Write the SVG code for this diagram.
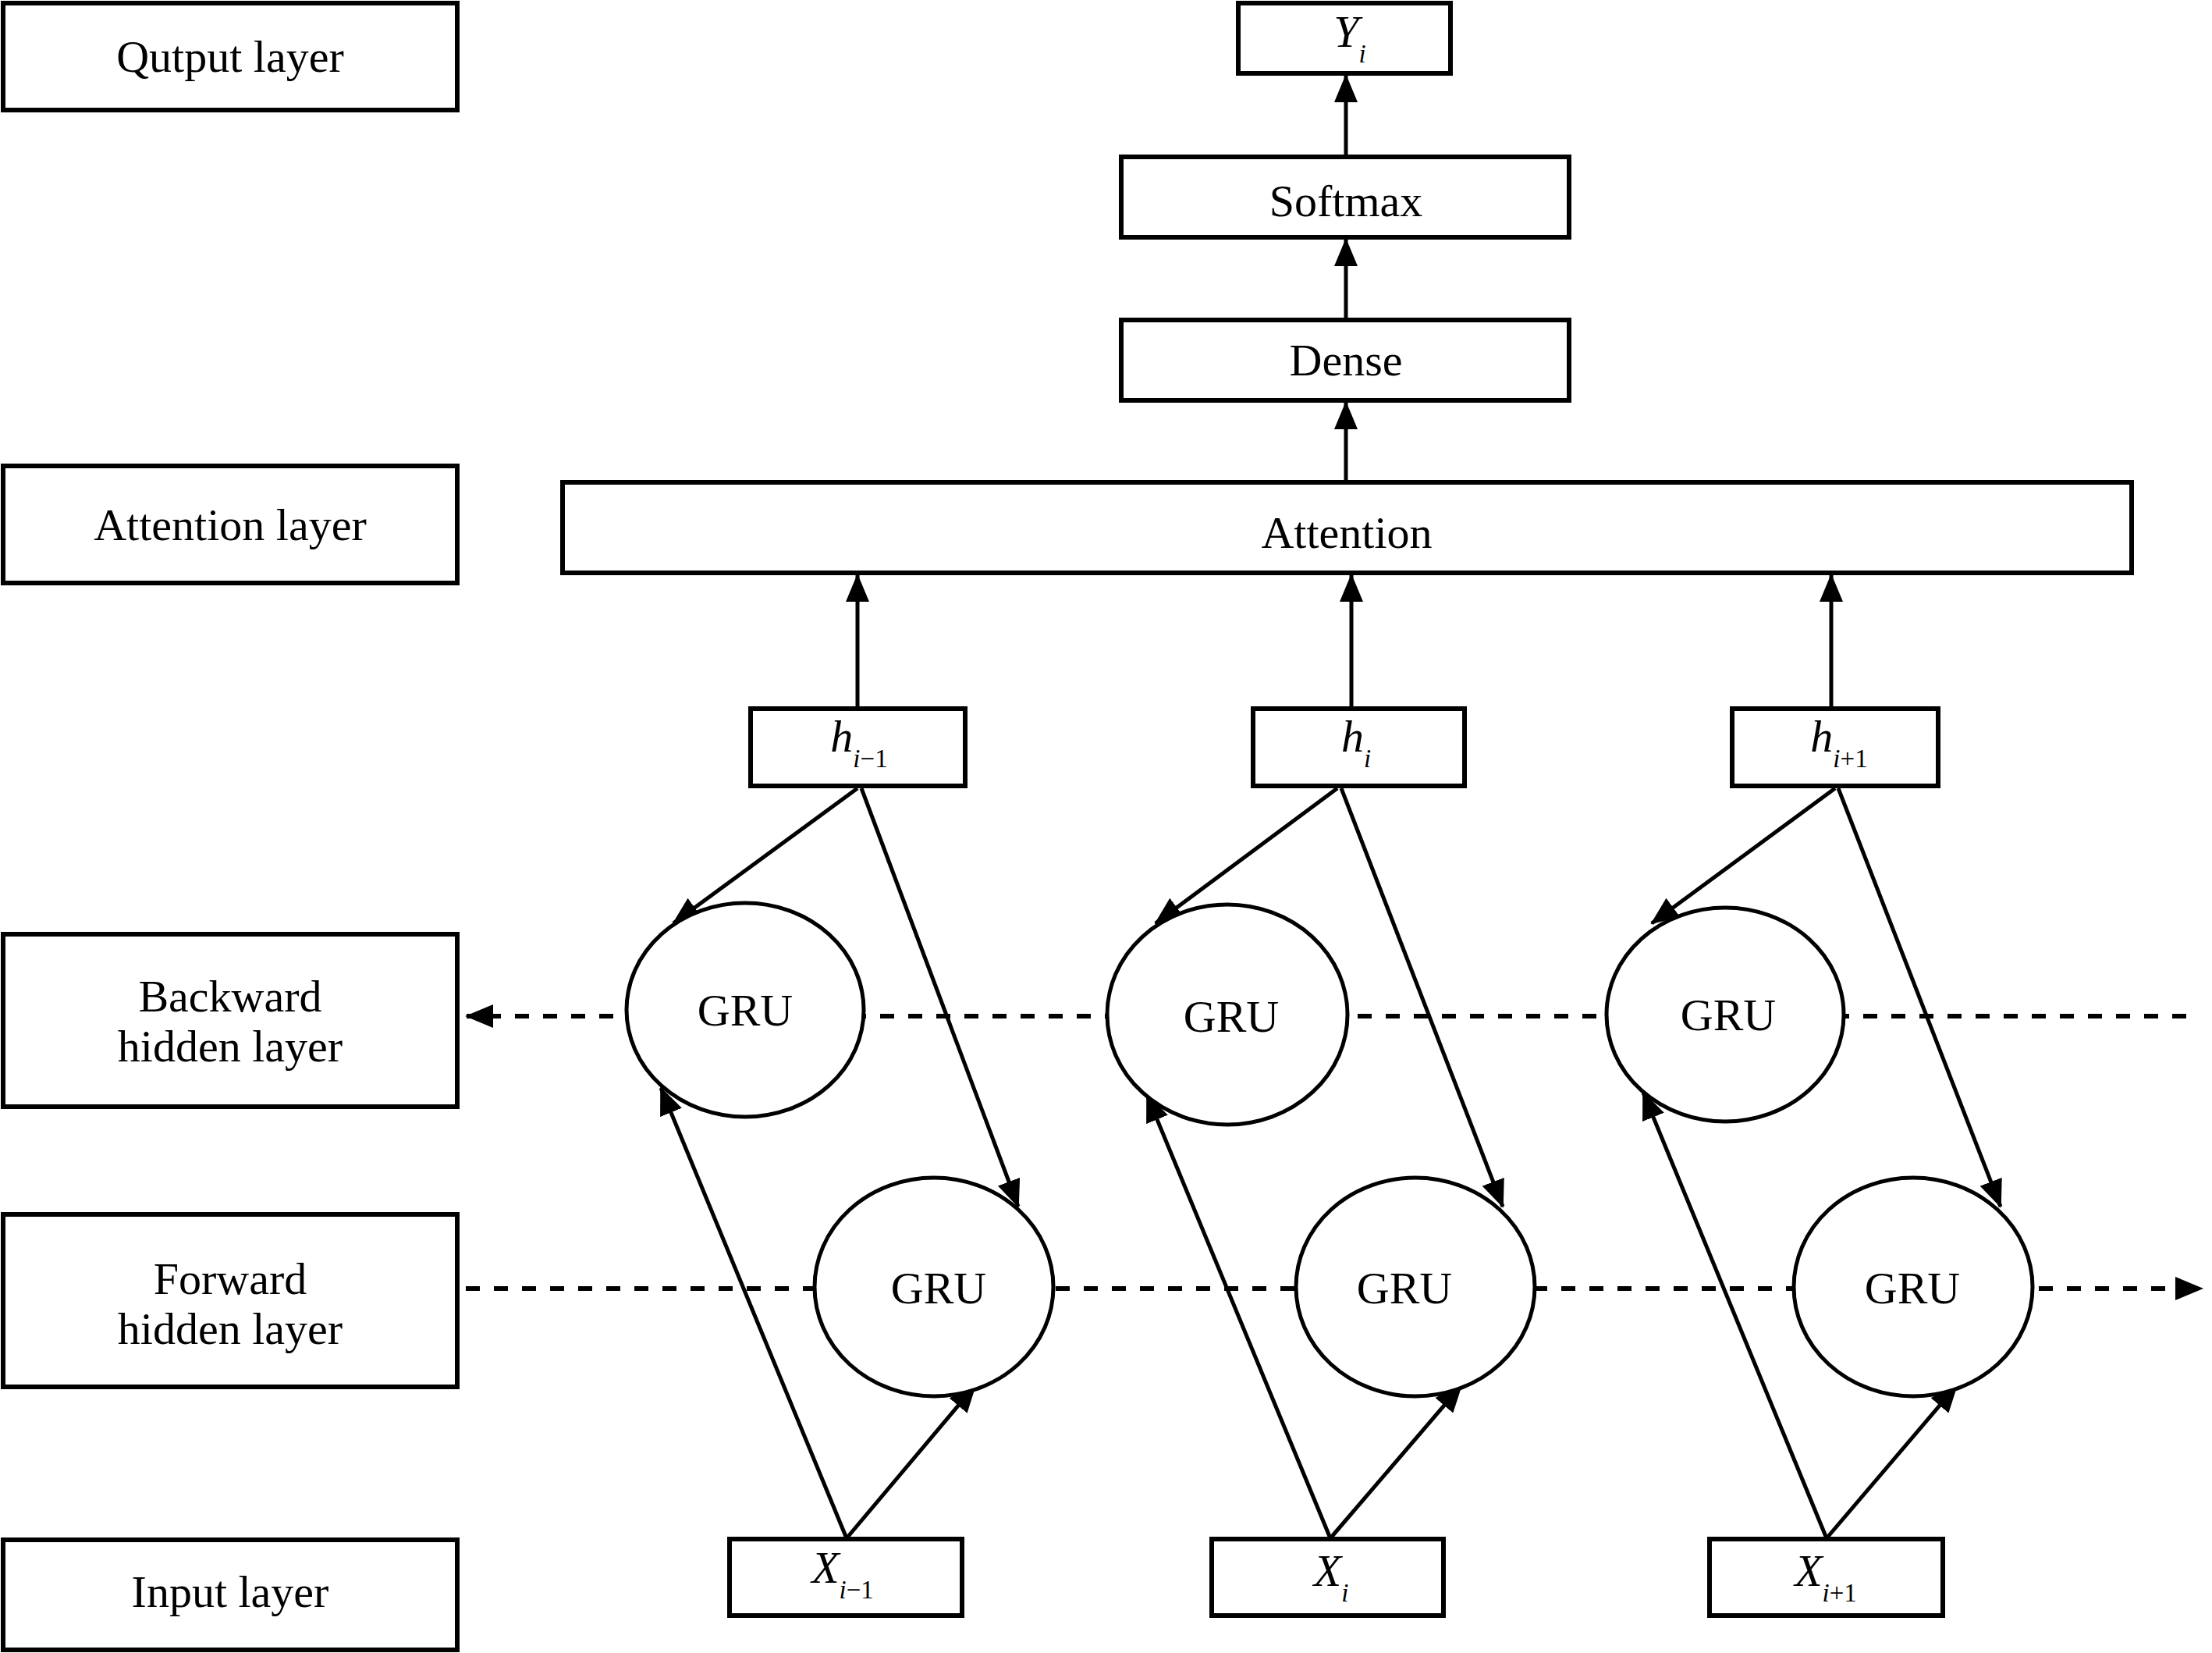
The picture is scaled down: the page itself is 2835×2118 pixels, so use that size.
<svg xmlns="http://www.w3.org/2000/svg" width="2835" height="2118" viewBox="0 0 2835 2118">
<style>
.box{fill:#fff;stroke:#000;stroke-width:6}
.gru{fill:#fff;stroke:#000;stroke-width:5}
.lbl{font-family:"Liberation Serif","Times New Roman",serif;font-size:58px;fill:#000;text-anchor:middle}
.m{font-family:"Liberation Serif","Times New Roman",serif;font-size:58px;fill:#000;text-anchor:middle;font-style:italic}
.sub{font-size:33px}
.ln{stroke:#000;stroke-width:5;fill:none}
.dash{stroke:#000;stroke-width:6;fill:none;stroke-dasharray:18 18}
</style>
<defs>
<marker id="ah" markerUnits="userSpaceOnUse" markerWidth="36" markerHeight="30" viewBox="0 0 36 30" refX="34" refY="15" orient="auto">
<path d="M0,0 L36,15 L0,30 Z" fill="#000"/>
</marker>
</defs>
<rect width="2835" height="2118" fill="#fff"/>
<g id="connectors">
<line class="dash" x1="2802" y1="1302" x2="598" y2="1302" marker-end="url(#ah)"/>
<line class="dash" x1="597" y1="1651" x2="2822" y2="1651" marker-end="url(#ah)"/>
<line class="ln" x1="1725" y1="618" x2="1725" y2="516" marker-end="url(#ah)"/>
<line class="ln" x1="1725" y1="410" x2="1725" y2="307" marker-end="url(#ah)"/>
<line class="ln" x1="1725" y1="201" x2="1725" y2="97" marker-end="url(#ah)"/>
<line class="ln" x1="1099" y1="908" x2="1099" y2="737" marker-end="url(#ah)"/>
<line class="ln" x1="1732" y1="908" x2="1732" y2="737" marker-end="url(#ah)"/>
<line class="ln" x1="2347" y1="908" x2="2347" y2="737" marker-end="url(#ah)"/>
<line class="ln" x1="1099" y1="1010" x2="863" y2="1183" marker-end="url(#ah)"/>
<line class="ln" x1="1104" y1="1010" x2="1305" y2="1546" marker-end="url(#ah)"/>
<line class="ln" x1="1085" y1="1971" x2="847" y2="1394" marker-end="url(#ah)"/>
<line class="ln" x1="1085" y1="1971" x2="1250" y2="1775" marker-end="url(#ah)"/>
<line class="ln" x1="1714" y1="1010" x2="1481" y2="1183" marker-end="url(#ah)"/>
<line class="ln" x1="1719" y1="1010" x2="1926" y2="1546" marker-end="url(#ah)"/>
<line class="ln" x1="1705" y1="1971" x2="1470" y2="1403" marker-end="url(#ah)"/>
<line class="ln" x1="1705" y1="1971" x2="1873" y2="1775" marker-end="url(#ah)"/>
<line class="ln" x1="2352" y1="1010" x2="2117" y2="1183" marker-end="url(#ah)"/>
<line class="ln" x1="2356" y1="1010" x2="2564" y2="1546" marker-end="url(#ah)"/>
<line class="ln" x1="2341" y1="1971" x2="2106" y2="1400" marker-end="url(#ah)"/>
<line class="ln" x1="2341" y1="1971" x2="2508" y2="1775" marker-end="url(#ah)"/>
</g>
<g id="lbl-output"><rect class="box" x="4" y="4" width="582" height="137"/><text class="lbl" x="295" y="92">Qutput layer</text></g>
<g id="lbl-attention"><rect class="box" x="4" y="597" width="582" height="150"/><text class="lbl" x="295" y="692">Attention layer</text></g>
<g id="lbl-backward"><rect class="box" x="4" y="1197" width="582" height="221"/><text class="lbl" x="295" y="1296">Backward</text><text class="lbl" x="295" y="1360">hidden layer</text></g>
<g id="lbl-forward"><rect class="box" x="4" y="1556" width="582" height="221"/><text class="lbl" x="295" y="1658">Forward</text><text class="lbl" x="295" y="1722">hidden layer</text></g>
<g id="lbl-input"><rect class="box" x="4" y="1973" width="582" height="141"/><text class="lbl" x="295" y="2059">Input layer</text></g>
<g id="yi"><rect class="box" x="1587" y="4" width="272" height="90"/><text class="m" x="1730" y="60">Y<tspan class="sub" dy="20">i</tspan></text></g>
<g id="softmax"><rect class="box" x="1437" y="201" width="574" height="103"/><text class="lbl" x="1725" y="277">Softmax</text></g>
<g id="dense"><rect class="box" x="1437" y="410" width="574" height="103"/><text class="lbl" x="1725" y="481">Dense</text></g>
<g id="attention"><rect class="box" x="721" y="618" width="2011" height="116"/><text class="lbl" x="1726" y="702">Attention</text></g>
<g id="h1"><rect class="box" x="962" y="908" width="275" height="99"/><text class="m" x="1101" y="963">h<tspan class="sub" dy="20">i</tspan><tspan class="sub" font-style="normal">−1</tspan></text></g>
<g id="h2"><rect class="box" x="1606" y="908" width="271" height="99"/><text class="m" x="1738" y="963">h<tspan class="sub" dy="20">i</tspan></text></g>
<g id="h3"><rect class="box" x="2220" y="908" width="264" height="99"/><text class="m" x="2357" y="963">h<tspan class="sub" dy="20">i</tspan><tspan class="sub" font-style="normal">+1</tspan></text></g>
<g id="bgru1"><ellipse class="gru" cx="955" cy="1294" rx="152" ry="137"/><text class="lbl" x="955" y="1314">GRU</text></g>
<g id="bgru2"><ellipse class="gru" cx="1573" cy="1300" rx="154" ry="141"/><text class="lbl" x="1578" y="1322">GRU</text></g>
<g id="bgru3"><ellipse class="gru" cx="2211" cy="1300" rx="152" ry="137"/><text class="lbl" x="2215" y="1320">GRU</text></g>
<g id="fgru1"><ellipse class="gru" cx="1197" cy="1649" rx="153" ry="140"/><text class="lbl" x="1203" y="1670">GRU</text></g>
<g id="fgru2"><ellipse class="gru" cx="1814" cy="1649" rx="153" ry="140"/><text class="lbl" x="1800" y="1670">GRU</text></g>
<g id="fgru3"><ellipse class="gru" cx="2452" cy="1649" rx="153" ry="140"/><text class="lbl" x="2451" y="1670">GRU</text></g>
<g id="x1"><rect class="box" x="935" y="1972" width="298" height="98"/><text class="m" x="1080" y="2028">X<tspan class="sub" dy="20">i</tspan><tspan class="sub" font-style="normal">−1</tspan></text></g>
<g id="x2"><rect class="box" x="1553" y="1972" width="297" height="98"/><text class="m" x="1706" y="2032">X<tspan class="sub" dy="20">i</tspan></text></g>
<g id="x3"><rect class="box" x="2191" y="1972" width="299" height="98"/><text class="m" x="2340" y="2032">X<tspan class="sub" dy="20">i</tspan><tspan class="sub" font-style="normal">+1</tspan></text></g>
</svg>
